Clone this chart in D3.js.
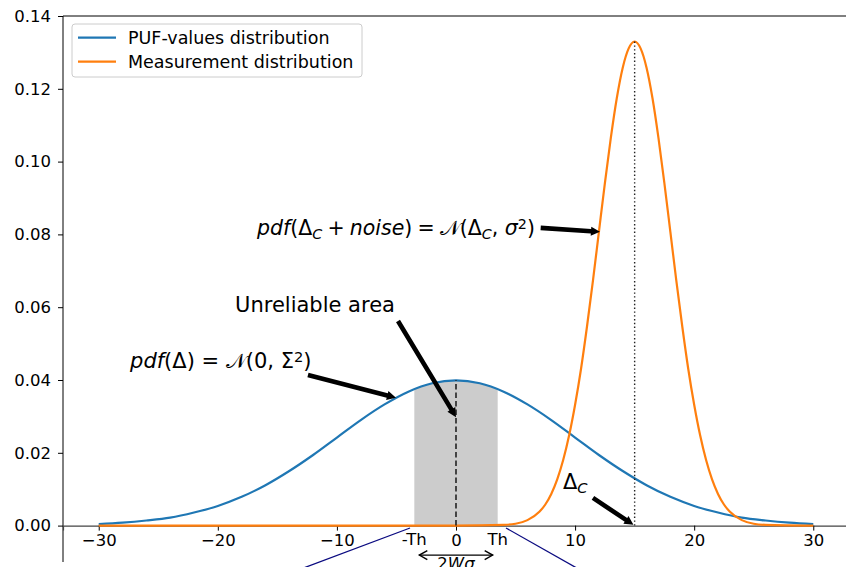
<!DOCTYPE html>
<html>
<head>
<meta charset="utf-8">
<script src="https://cdn.jsdelivr.net/npm/d3@7"></script>
<style>
  html, body { margin: 0; padding: 0; background: #fff; }
  svg { display: block; font-family: "DejaVu Sans", sans-serif; }
</style>
</head>
<body>
<svg id="chart" width="846" height="567"></svg>
<script>
// ---- data ----
const xTicks = [-30, -20, -10, 0, 10, 20, 30];
const yTicks = [0.00, 0.02, 0.04, 0.06, 0.08, 0.10, 0.12, 0.14];
const yTickLabels = ["0.00", "0.02", "0.04", "0.06", "0.08", "0.10", "0.12", "0.14"];

// PUF-values distribution (blue)
const pufX = [-30, -28, -26, -24, -22, -20, -18, -16, -14, -12, -10, -8, -6, -4, -2, 0,
              2, 4, 6, 8, 10, 12, 14, 16, 18, 20, 22, 24, 26, 28, 30];
const pufY = [0.0004, 0.0008, 0.0014, 0.0022, 0.0036, 0.0054, 0.0079, 0.0111, 0.0150, 0.0194, 0.0242, 0.0290, 0.0333, 0.0368, 0.0391, 0.0399,
              0.0391, 0.0368, 0.0333, 0.0290, 0.0242, 0.0194, 0.0150, 0.0111, 0.0079, 0.0054, 0.0036, 0.0022, 0.0014, 0.0008, 0.0004];

// Measurement distribution (orange)
const measX = [-30, -20, -10, 0, 4, 5, 6, 7, 7.5, 8, 8.5, 9, 9.5, 10, 10.5, 11, 11.5, 12, 12.5, 13, 13.5, 14, 14.5, 15,
               15.5, 16, 16.5, 17, 17.5, 18, 18.5, 19, 19.5, 20, 20.5, 21, 21.5, 22, 22.5, 23, 24, 25, 26, 30];
const measY = [0, 0, 0, 0, 0.0002, 0.0005, 0.0015, 0.0038, 0.0058, 0.0087, 0.0127, 0.0180, 0.0248, 0.0332, 0.0431, 0.0547, 0.0673, 0.0807, 0.0940, 0.1065, 0.1174, 0.1258, 0.1311, 0.1330,
               0.1311, 0.1258, 0.1174, 0.1065, 0.0940, 0.0807, 0.0673, 0.0547, 0.0431, 0.0332, 0.0248, 0.0180, 0.0127, 0.0087, 0.0058, 0.0038, 0.0015, 0.0005, 0.0002, 0];

const seriesNames = ["PUF-values distribution", "Measurement distribution"];
const seriesColors = ["#1f77b4", "#ff7f0e"];

const threshold = 3.5;        // Th
const thLabels = ["-Th", "Th"];
const deltaC = 15;            // Δ_C
const pufPeak = 0.0399;
const measPeak = 0.1330;

// ---- layout ----
const W = 846, H = 567;
const x = d3.scaleLinear().domain([-33, 33]).range([63, 849]);
const y = d3.scaleLinear().domain([-0.01, 0.14]).range([562, 16]);

const svg = d3.select("#chart");
const ink = "#000";

svg.append("defs").append("clipPath").attr("id", "shadeClip")
  .append("rect")
  .attr("x", x(-threshold)).attr("y", 0)
  .attr("width", x(threshold) - x(-threshold)).attr("height", H);

const pufData = pufX.map((v, i) => [v, pufY[i]]);
const measData = measX.map((v, i) => [v, measY[i]]);

// shaded unreliable area
svg.append("path")
  .datum(pufData)
  .attr("clip-path", "url(#shadeClip)")
  .attr("fill", "#cccccc")
  .attr("d", d3.area().x(d => x(d[0])).y0(y(0)).y1(d => y(d[1])).curve(d3.curveCatmullRom));

// spines
svg.append("line").attr("x1", x(-33)).attr("x2", x(33)).attr("y1", y(0.14)).attr("y2", y(0.14))
  .attr("stroke", ink).attr("stroke-width", 1);
svg.append("line").attr("x1", x(-33)).attr("x2", x(-33)).attr("y1", y(0.14)).attr("y2", y(-0.01))
  .attr("stroke", ink).attr("stroke-width", 1);

// x axis at zero
const xAxis = d3.axisBottom(x).tickValues(xTicks).tickSize(5).tickPadding(4)
  .tickFormat(d => d < 0 ? "\u2212" + Math.abs(d) : String(d));
const gx = svg.append("g").attr("transform", `translate(0,${y(0)})`).call(xAxis);
gx.select(".domain").attr("stroke", "#444").attr("stroke-width", 1.2);
gx.selectAll(".tick line").attr("stroke", ink);
gx.selectAll(".tick text").attr("font-size", "16.5px").attr("font-family", "DejaVu Sans").attr("fill", ink);

// y axis
const yAxis = d3.axisLeft(y).tickValues(yTicks).tickSize(5).tickPadding(7)
  .tickFormat((d, i) => yTickLabels[i]);
const gy = svg.append("g").attr("transform", `translate(${x(-33)},0)`).call(yAxis);
gy.select(".domain").remove();
gy.selectAll(".tick line").attr("stroke", ink);
gy.selectAll(".tick text").attr("font-size", "16.5px").attr("font-family", "DejaVu Sans").attr("fill", ink);

// curves
svg.append("path").datum(pufData)
  .attr("fill", "none").attr("stroke", seriesColors[0]).attr("stroke-width", 2.2)
  .attr("d", d3.line().x(d => x(d[0])).y(d => y(d[1])).curve(d3.curveCatmullRom)(pufData));
svg.append("path").datum(measData)
  .attr("fill", "none").attr("stroke", seriesColors[1]).attr("stroke-width", 2.2)
  .attr("d", d3.line().x(d => x(d[0])).y(d => y(d[1])).curve(d3.curveMonotoneX)(measData));

// vertical dashed at 0, dotted at Δ_C
svg.append("line").attr("x1", x(0)).attr("x2", x(0)).attr("y1", y(0)).attr("y2", y(pufPeak))
  .attr("stroke", "#222").attr("stroke-width", 1.6).attr("stroke-dasharray", "5.5,3");
svg.append("line").attr("x1", x(deltaC)).attr("x2", x(deltaC)).attr("y1", y(0)).attr("y2", y(measPeak))
  .attr("stroke", "#222").attr("stroke-width", 1.4).attr("stroke-dasharray", "1.4,2.4");

// connection lines (navy) toward a lower panel
const connLines = [
  [[-3.86, -0.00066], [-13.5, -0.0125]],
  [[4.2, -0.00066], [10.6, -0.0125]]
];
connLines.forEach(l => {
  svg.append("line").attr("x1", x(l[0][0])).attr("y1", y(l[0][1]))
    .attr("x2", x(l[1][0])).attr("y2", y(l[1][1]))
    .attr("stroke", "#0a0a80").attr("stroke-width", 1.3);
});

// Th labels
[-threshold, threshold].forEach((t, i) => {
  svg.append("text").attr("x", x(t)).attr("y", y(-0.0053))
    .attr("text-anchor", "middle").attr("font-size", "16.5px").attr("fill", ink)
    .text(thLabels[i]);
});

// 2Wσ double arrow
const wx0 = x(-3.08), wx1 = x(3.08), wy = y(-0.0081);
svg.append("line").attr("x1", wx0).attr("x2", wx1).attr("y1", wy).attr("y2", wy)
  .attr("stroke", ink).attr("stroke-width", 1.4);
svg.append("path").attr("d", `M${wx0 + 8},${wy - 4.5} L${wx0},${wy} L${wx0 + 8},${wy + 4.5}`)
  .attr("fill", "none").attr("stroke", ink).attr("stroke-width", 1.4);
svg.append("path").attr("d", `M${wx1 - 8},${wy - 4.5} L${wx1},${wy} L${wx1 - 8},${wy + 4.5}`)
  .attr("fill", "none").attr("stroke", ink).attr("stroke-width", 1.4);
const wt = svg.append("text").attr("x", x(0)).attr("y", y(-0.0118))
  .attr("text-anchor", "middle").attr("font-size", "16.5px").attr("fill", ink);
wt.append("tspan").text("2");
wt.append("tspan").attr("font-style", "italic").text("Wσ");

// fat arrows
function fatArrow(p0, p1) {
  const x0 = x(p0[0]), y0 = y(p0[1]), x1 = x(p1[0]), y1 = y(p1[1]);
  const dx = x1 - x0, dy = y1 - y0, L = Math.hypot(dx, dy);
  const ux = dx / L, uy = dy / L, nx = -uy, ny = ux;
  const sw = 2.3, hw = 4.6, hl = 9;
  const bx = x1 - ux * hl, by = y1 - uy * hl;
  const pts = [
    [x0 + nx * sw, y0 + ny * sw], [bx + nx * sw, by + ny * sw], [bx + nx * hw, by + ny * hw],
    [x1, y1],
    [bx - nx * hw, by - ny * hw], [bx - nx * sw, by - ny * sw], [x0 - nx * sw, y0 - ny * sw]
  ];
  svg.append("path").attr("d", "M" + pts.map(p => p.join(",")).join("L") + "Z").attr("fill", ink);
}

function mathText(xv, yv, anchor, fs, parts) {
  const t = svg.append("text").attr("x", x(xv)).attr("y", y(yv))
    .attr("text-anchor", anchor).attr("font-size", fs + "px").attr("fill", ink);
  parts.forEach(p => {
    const s = t.append("tspan").text(p.t);
    if (p.i) s.attr("font-style", "italic");
    if (p.sub) s.attr("baseline-shift", "-25%").attr("font-size", (fs * 0.7) + "px");
    if (p.sup) s.attr("baseline-shift", "40%").attr("font-size", (fs * 0.7) + "px");
  });
  return t;
}

const sp = "\u2005";
// pdf(Δ_C + noise) = N(Δ_C, σ²)
mathText(6.63, 0.0798, "end", 20.5, [
  {t: "pdf", i: true}, {t: "(Δ"}, {t: "C", i: true, sub: true}, {t: sp + "+" + sp}, {t: "noise", i: true},
  {t: ")" + sp + "=" + sp}, {t: "𝒩"}, {t: "(Δ"}, {t: "C", i: true, sub: true}, {t: ", "}, {t: "σ", i: true}, {t: "2", sup: true}, {t: ")"}
]);
fatArrow([7.11, 0.0818], [12.09, 0.0807]);

// Unreliable area
svg.append("text").attr("x", x(-11.84)).attr("y", y(0.0587)).attr("text-anchor", "middle")
  .attr("font-size", "21px").attr("fill", ink).text("Unreliable area");
fatArrow([-4.87, 0.0562], [0, 0.0298]);

// pdf(Δ) = N(0, Σ²)
mathText(-27.37, 0.0433, "start", 21, [
  {t: "pdf", i: true}, {t: "(Δ) = "}, {t: "𝒩"}, {t: "(0, Σ"}, {t: "2", sup: true}, {t: ")"}
]);
fatArrow([-12.43, 0.0414], [-5.04, 0.0351]);

// Δ_C
mathText(8.98, 0.0101, "start", 21, [{t: "Δ"}, {t: "C", i: true, sub: true}]);
fatArrow([11.5, 0.0076], [14.9, 0.0002]);

// legend
const lg = svg.append("g");
lg.append("rect").attr("x", 72).attr("y", 24).attr("width", 290).attr("height", 53).attr("rx", 3)
  .attr("fill", "#fff").attr("fill-opacity", 0.8).attr("stroke", "#cccccc").attr("stroke-width", 1);
seriesNames.forEach((n, i) => {
  const yy = 37.7 + i * 24;
  lg.append("line").attr("x1", 78).attr("x2", 116).attr("y1", yy).attr("y2", yy)
    .attr("stroke", seriesColors[i]).attr("stroke-width", 2.2);
  lg.append("text").attr("x", 128).attr("y", yy + 6).attr("font-size", "17.5px").attr("fill", ink).text(n);
});
</script>
</body>
</html>
